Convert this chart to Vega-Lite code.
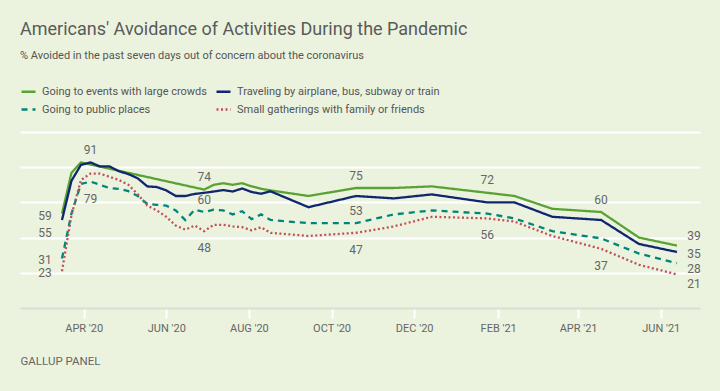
{
  "$schema": "https://vega.github.io/schema/vega-lite/v6.json",
  "autosize": {"type": "none"},
  "width": 680,
  "height": 176,
  "padding": {"left": 20, "top": 132, "right": 20, "bottom": 83},
  "background": "#ebf3de",
  "title": {
    "text": "Americans' Avoidance of Activities During the Pandemic",
    "subtitle": "% Avoided in the past seven days out of concern about the coronavirus",
    "anchor": "start",
    "frame": "group",
    "offset": 22,
    "font": "Roboto",
    "fontSize": 18,
    "fontWeight": "normal",
    "color": "#5a5a5a",
    "subtitleFont": "Roboto",
    "subtitleFontSize": 11,
    "subtitleColor": "#555555",
    "subtitlePadding": 11
  },
  "datasets": {
    "lines": [
      {"date": "2020-03-16", "Going to events with large crowds": 59, "Traveling by airplane, bus, subway or train": 55, "Going to public places": 31, "Small gatherings with family or friends": 23},
      {"date": "2020-03-23", "Going to events with large crowds": 84.5, "Traveling by airplane, bus, subway or train": 79.5, "Going to public places": 59, "Small gatherings with family or friends": 58},
      {"date": "2020-03-30", "Going to events with large crowds": 91, "Traveling by airplane, bus, subway or train": 89.5, "Going to public places": 77.5, "Small gatherings with family or friends": 80},
      {"date": "2020-04-06", "Going to events with large crowds": null, "Traveling by airplane, bus, subway or train": 91, "Going to public places": 79, "Small gatherings with family or friends": 84},
      {"date": "2020-04-13", "Going to events with large crowds": null, "Traveling by airplane, bus, subway or train": 88.5, "Going to public places": 77, "Small gatherings with family or friends": 84},
      {"date": "2020-04-20", "Going to events with large crowds": null, "Traveling by airplane, bus, subway or train": 88.5, "Going to public places": 75, "Small gatherings with family or friends": 82},
      {"date": "2020-04-27", "Going to events with large crowds": null, "Traveling by airplane, bus, subway or train": 85.5, "Going to public places": 74.5, "Small gatherings with family or friends": 80},
      {"date": "2020-05-04", "Going to events with large crowds": null, "Traveling by airplane, bus, subway or train": 83.7, "Going to public places": 73, "Small gatherings with family or friends": 77},
      {"date": "2020-05-11", "Going to events with large crowds": null, "Traveling by airplane, bus, subway or train": 81, "Going to public places": 70, "Small gatherings with family or friends": 71},
      {"date": "2020-05-18", "Going to events with large crowds": null, "Traveling by airplane, bus, subway or train": 76, "Going to public places": 65, "Small gatherings with family or friends": 64},
      {"date": "2020-05-25", "Going to events with large crowds": null, "Traveling by airplane, bus, subway or train": 75.6, "Going to public places": 64.5, "Small gatherings with family or friends": 61},
      {"date": "2020-06-01", "Going to events with large crowds": null, "Traveling by airplane, bus, subway or train": 73.5, "Going to public places": 64, "Small gatherings with family or friends": 57},
      {"date": "2020-06-08", "Going to events with large crowds": null, "Traveling by airplane, bus, subway or train": 70, "Going to public places": 61, "Small gatherings with family or friends": 51.5},
      {"date": "2020-06-15", "Going to events with large crowds": null, "Traveling by airplane, bus, subway or train": 70, "Going to public places": 55, "Small gatherings with family or friends": 49},
      {"date": "2020-06-22", "Going to events with large crowds": null, "Traveling by airplane, bus, subway or train": 71.3, "Going to public places": 61.5, "Small gatherings with family or friends": 51.5},
      {"date": "2020-06-29", "Going to events with large crowds": 74, "Traveling by airplane, bus, subway or train": 72, "Going to public places": 60, "Small gatherings with family or friends": 48},
      {"date": "2020-07-06", "Going to events with large crowds": 77, "Traveling by airplane, bus, subway or train": 72.8, "Going to public places": 61.5, "Small gatherings with family or friends": 52},
      {"date": "2020-07-13", "Going to events with large crowds": 78, "Traveling by airplane, bus, subway or train": 73.7, "Going to public places": 61, "Small gatherings with family or friends": 52},
      {"date": "2020-07-20", "Going to events with large crowds": 77, "Traveling by airplane, bus, subway or train": 72.8, "Going to public places": 58.5, "Small gatherings with family or friends": 51},
      {"date": "2020-07-27", "Going to events with large crowds": 78, "Traveling by airplane, bus, subway or train": 74.7, "Going to public places": 60.5, "Small gatherings with family or friends": 50.5},
      {"date": "2020-08-03", "Going to events with large crowds": 76, "Traveling by airplane, bus, subway or train": 72.5, "Going to public places": 55.5, "Small gatherings with family or friends": 48.5},
      {"date": "2020-08-10", "Going to events with large crowds": 74.5, "Traveling by airplane, bus, subway or train": 71.4, "Going to public places": 58.5, "Small gatherings with family or friends": 50.5},
      {"date": "2020-08-17", "Going to events with large crowds": 73.5, "Traveling by airplane, bus, subway or train": 72.9, "Going to public places": 55, "Small gatherings with family or friends": 47},
      {"date": "2020-09-14", "Going to events with large crowds": 70, "Traveling by airplane, bus, subway or train": 63, "Going to public places": 53, "Small gatherings with family or friends": 45},
      {"date": "2020-10-19", "Going to events with large crowds": 75, "Traveling by airplane, bus, subway or train": 70, "Going to public places": 53, "Small gatherings with family or friends": 47},
      {"date": "2020-11-16", "Going to events with large crowds": 75, "Traveling by airplane, bus, subway or train": 68.5, "Going to public places": 58.5, "Small gatherings with family or friends": 51},
      {"date": "2020-12-14", "Going to events with large crowds": 76, "Traveling by airplane, bus, subway or train": 71, "Going to public places": 61, "Small gatherings with family or friends": 57},
      {"date": "2021-01-24", "Going to events with large crowds": 72, "Traveling by airplane, bus, subway or train": 66, "Going to public places": 59, "Small gatherings with family or friends": 56},
      {"date": "2021-02-13", "Going to events with large crowds": 70, "Traveling by airplane, bus, subway or train": 66, "Going to public places": 56, "Small gatherings with family or friends": 54},
      {"date": "2021-03-13", "Going to events with large crowds": 62, "Traveling by airplane, bus, subway or train": 57, "Going to public places": 48, "Small gatherings with family or friends": 45},
      {"date": "2021-04-18", "Going to events with large crowds": 60, "Traveling by airplane, bus, subway or train": 55, "Going to public places": 43.5, "Small gatherings with family or friends": 37},
      {"date": "2021-05-16", "Going to events with large crowds": 44, "Traveling by airplane, bus, subway or train": 40, "Going to public places": 34, "Small gatherings with family or friends": 27},
      {"date": "2021-06-13", "Going to events with large crowds": 39, "Traveling by airplane, bus, subway or train": 35, "Going to public places": 28, "Small gatherings with family or friends": 21}
    ],
    "labels": [
      {"date": "2020-03-16", "value": 59, "place": "start"},
      {"date": "2020-03-16", "value": 55, "place": "startLow"},
      {"date": "2020-03-16", "value": 31, "place": "start"},
      {"date": "2020-03-16", "value": 23, "place": "start"},
      {"date": "2020-04-06", "value": 91, "place": "above"},
      {"date": "2020-04-06", "value": 79, "place": "below"},
      {"date": "2020-06-29", "value": 74, "place": "above"},
      {"date": "2020-06-29", "value": 60, "place": "above"},
      {"date": "2020-06-29", "value": 48, "place": "below"},
      {"date": "2020-10-19", "value": 75, "place": "above"},
      {"date": "2020-10-19", "value": 53, "place": "above"},
      {"date": "2020-10-19", "value": 47, "place": "below"},
      {"date": "2021-01-24", "value": 72, "place": "above"},
      {"date": "2021-01-24", "value": 56, "place": "below"},
      {"date": "2021-04-18", "value": 60, "place": "above"},
      {"date": "2021-04-18", "value": 37, "place": "below"},
      {"date": "2021-06-13", "value": 39, "place": "endUp"},
      {"date": "2021-06-13", "value": 35, "place": "end"},
      {"date": "2021-06-13", "value": 28, "place": "endDown"},
      {"date": "2021-06-13", "value": 21, "place": "endDown2"}
    ]
  },
  "encoding": {
    "x": {
      "field": "date",
      "type": "temporal",
      "scale": {
        "type": "utc",
        "domain": [
          {"year": 2020, "month": 2, "date": 14, "utc": true},
          {"year": 2021, "month": 6, "date": 30, "utc": true}
        ]
      },
      "axis": {
        "values": [
          {"year": 2020, "month": 4, "date": 1, "utc": true},
          {"year": 2020, "month": 6, "date": 1, "utc": true},
          {"year": 2020, "month": 8, "date": 1, "utc": true},
          {"year": 2020, "month": 10, "date": 1, "utc": true},
          {"year": 2020, "month": 12, "date": 1, "utc": true},
          {"year": 2021, "month": 2, "date": 1, "utc": true},
          {"year": 2021, "month": 4, "date": 1, "utc": true},
          {"year": 2021, "month": 6, "date": 1, "utc": true}
        ],
        "labelExpr": "upper(utcFormat(datum.value, \"%b '%y\"))",
        "grid": false,
        "domainColor": "#d9ddd6",
        "domainWidth": 2,
        "tickColor": "#ffffff",
        "tickWidth": 2,
        "tickSize": 10,
        "labelColor": "#666666",
        "labelFont": "Roboto",
        "labelFontSize": 11,
        "labelPadding": 4,
        "title": "GALLUP PANEL",
        "titleAnchor": "start",
        "titleAlign": "left",
        "titleX": 0,
        "titleY": 53,
        "titleBaseline": "middle",
        "titleFont": "Roboto",
        "titleFontSize": 11.5,
        "titleFontWeight": "normal",
        "titleColor": "#666666",
        "encoding": {"title": {"update": {"letterSpacing": {"value": 0.9}}}}
      }
    },
    "y": {
      "field": "value",
      "type": "quantitative",
      "scale": {"domain": [0, 110], "nice": false, "zero": true},
      "axis": {
        "values": [22, 44, 66, 88, 110],
        "grid": true,
        "gridColor": "#ffffff",
        "gridWidth": 2,
        "labels": false,
        "ticks": false,
        "domain": false,
        "title": null
      }
    }
  },
  "layer": [
    {
      "data": {"name": "lines"},
      "transform": [
        {"fold": ["Going to events with large crowds", "Traveling by airplane, bus, subway or train", "Going to public places", "Small gatherings with family or friends"], "as": ["series", "value"]},
        {"filter": "datum.value != null"}
      ],
      "mark": {"type": "line", "strokeWidth": 2.3},
      "encoding": {
        "color": {
          "field": "series",
          "type": "nominal",
          "scale": {
            "domain": ["Going to events with large crowds", "Traveling by airplane, bus, subway or train", "Going to public places", "Small gatherings with family or friends"],
            "range": ["#5ba235", "#10266e", "#00857a", "#c24e5c"]
          },
          "legend": {
            "title": null,
            "orient": "none",
            "direction": "horizontal",
            "legendX": 0,
            "legendY": -49,
            "columns": 2,
            "columnPadding": 4,
            "rowPadding": 4,
            "symbolType": "stroke",
            "symbolSize": 196,
            "symbolStrokeWidth": 2.3,
            "labelFont": "Roboto",
            "labelFontSize": 11,
            "labelColor": "#555555",
            "labelOffset": 5,
            "labelLimit": 400
          }
        },
        "strokeDash": {
          "field": "series",
          "type": "nominal",
          "scale": {
            "domain": ["Going to events with large crowds", "Traveling by airplane, bus, subway or train", "Going to public places", "Small gatherings with family or friends"],
            "range": [[1, 0], [1, 0], [6, 5], [2, 2.5]]
          },
          "legend": null
        }
      }
    },
    {
      "data": {"name": "labels"},
      "transform": [{"filter": "datum.place == 'above'"}],
      "mark": {"type": "text", "fontSize": 12, "font": "Roboto", "color": "#666666", "baseline": "middle", "align": "center", "dy": -12.5},
      "encoding": {"text": {"field": "value", "type": "quantitative"}}
    },
    {
      "data": {"name": "labels"},
      "transform": [{"filter": "datum.place == 'below'"}],
      "mark": {"type": "text", "fontSize": 12, "font": "Roboto", "color": "#666666", "baseline": "middle", "align": "center", "dy": 17},
      "encoding": {"text": {"field": "value", "type": "quantitative"}}
    },
    {
      "data": {"name": "labels"},
      "transform": [{"filter": "datum.place == 'start'"}],
      "mark": {"type": "text", "fontSize": 12, "font": "Roboto", "color": "#666666", "baseline": "middle", "align": "center", "dx": -17, "dy": 2},
      "encoding": {"text": {"field": "value", "type": "quantitative"}}
    },
    {
      "data": {"name": "labels"},
      "transform": [{"filter": "datum.place == 'startLow'"}],
      "mark": {"type": "text", "fontSize": 12, "font": "Roboto", "color": "#666666", "baseline": "middle", "align": "center", "dx": -17, "dy": 13},
      "encoding": {"text": {"field": "value", "type": "quantitative"}}
    },
    {
      "data": {"name": "labels"},
      "transform": [{"filter": "datum.place == 'endUp'"}],
      "mark": {"type": "text", "fontSize": 12, "font": "Roboto", "color": "#666666", "baseline": "middle", "align": "center", "dx": 17, "dy": -10},
      "encoding": {"text": {"field": "value", "type": "quantitative"}}
    },
    {
      "data": {"name": "labels"},
      "transform": [{"filter": "datum.place == 'end'"}],
      "mark": {"type": "text", "fontSize": 12, "font": "Roboto", "color": "#666666", "baseline": "middle", "align": "center", "dx": 17, "dy": 2},
      "encoding": {"text": {"field": "value", "type": "quantitative"}}
    },
    {
      "data": {"name": "labels"},
      "transform": [{"filter": "datum.place == 'endDown'"}],
      "mark": {"type": "text", "fontSize": 12, "font": "Roboto", "color": "#666666", "baseline": "middle", "align": "center", "dx": 17, "dy": 6},
      "encoding": {"text": {"field": "value", "type": "quantitative"}}
    },
    {
      "data": {"name": "labels"},
      "transform": [{"filter": "datum.place == 'endDown2'"}],
      "mark": {"type": "text", "fontSize": 12, "font": "Roboto", "color": "#666666", "baseline": "middle", "align": "center", "dx": 17, "dy": 10},
      "encoding": {"text": {"field": "value", "type": "quantitative"}}
    }
  ],
  "config": {
    "view": {"stroke": null},
    "font": "Roboto"
  }
}
